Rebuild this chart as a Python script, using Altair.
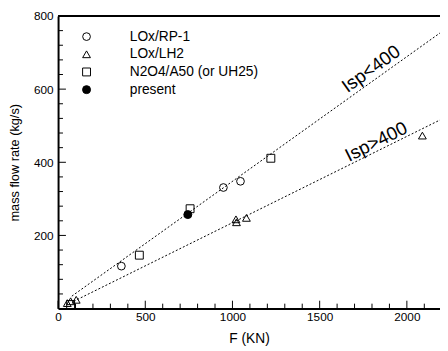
import altair as alt
import pandas as pd

# ---- data ----
series = ["LOx/RP-1", "LOx/LH2", "N2O4/A50 (or UH25)", "present"]
shapes = ["circle", "triangle-up", "square", "circle"]
fills = ["transparent", "transparent", "transparent", "black"]
strokes = ["black", "black", "black", "black"]
sizes = [62, 66, 55, 200]

rp1_F = [363, 948, 1046]
rp1_m = [116, 331, 348]
lh2_F = [53, 72, 104, 1020, 1023, 1080, 2089]
lh2_m = [15, 20, 24, 244, 236, 248, 473]
n2o4_F = [72, 466, 757, 1220]
n2o4_m = [11, 146, 273, 411]
present_F = [744]
present_m = [257]

upper_F = [79, 2200]
upper_m = [34, 757]
lower_F = [90, 2200]
lower_m = [20, 518]

label_text = ["Isp<400", "Isp>400"]
label_F = [1795, 1825]
label_m = [655, 456]
label_angle = [324.3, 333.5]

x_major = [0, 500, 1000, 1500, 2000]
x_minor = [v for v in range(100, 2200, 100) if v % 500 != 0]
y_major = [0, 200, 400, 600, 800]
y_minor = [v for v in range(40, 800, 40) if v % 200 != 0]
y_labels = [200, 400, 600, 800]

W, H = 389, 298
FONT = "Liberation Sans"

# ---- tables ----
pts = pd.DataFrame(
    [(f, m, series[0]) for f, m in zip(rp1_F, rp1_m)]
    + [(f, m, series[1]) for f, m in zip(lh2_F, lh2_m)]
    + [(f, m, series[2]) for f, m in zip(n2o4_F, n2o4_m)]
    + [(f, m, series[3]) for f, m in zip(present_F, present_m)],
    columns=["F", "m", "series"],
)
lines = pd.DataFrame(
    [(f, m, "upper") for f, m in zip(upper_F, upper_m)]
    + [(f, m, "lower") for f, m in zip(lower_F, lower_m)],
    columns=["F", "m", "line"],
)
labels = pd.DataFrame({"F": label_F, "m": label_m, "text": label_text, "angle": label_angle})

xs = alt.Scale(domain=[0, 2190], nice=False, zero=False)
ys = alt.Scale(domain=[0, 800], nice=False, zero=False)

x_axis = alt.Axis(values=x_major, format="d", ticks=False, tickSize=0, grid=False, labelFlush=False,
                  labelFontSize=12, labelPadding=3, labelColor="black",
                  domainColor="black", domainWidth=2, titleFontSize=14,
                  titleFontWeight="normal", titleColor="black", titlePadding=10)
y_axis = alt.Axis(values=y_labels, format="d", ticks=False, tickSize=0, grid=False, labelFlush=False,
                  labelFontSize=12, labelPadding=5, labelColor="black",
                  domainColor="black", domainWidth=2, titleFontSize=13,
                  titleFontWeight="normal", titleColor="black", titlePadding=12)

X = alt.X("F:Q", scale=xs, axis=x_axis, title="F (KN)")
Y = alt.Y("m:Q", scale=ys, axis=y_axis, title="mass flow rate (kg/s)")

leg = alt.Legend(orient="none", legendX=22, legendY=14, title=None,
                 labelFontSize=14, labelFont=FONT, labelColor="black", labelOffset=37,
                 rowPadding=4, symbolStrokeColor="black", symbolStrokeWidth=1, padding=0,
                 symbolOpacity=1)

line_layer = alt.Chart(lines).mark_line(color="black", strokeWidth=1, strokeDash=[2, 2], clip=True).encode(
    x=X, y=Y, detail="line:N"
)

point_layer = alt.Chart(pts).mark_point(strokeWidth=1, opacity=1, fillOpacity=1, strokeOpacity=1).encode(
    x=X, y=Y,
    shape=alt.Shape("series:N", scale=alt.Scale(domain=series, range=shapes), legend=leg),
    fill=alt.Fill("series:N", scale=alt.Scale(domain=series, range=fills), legend=leg),
    stroke=alt.Stroke("series:N", scale=alt.Scale(domain=series, range=strokes), legend=leg),
    size=alt.Size("series:N", scale=alt.Scale(domain=series, range=sizes), legend=leg),
)

text_layer = alt.Chart(labels).mark_text(font=FONT, fontSize=19, color="black", align="center",
                                          baseline="middle").encode(
    x=X, y=Y, text="text:N", angle=alt.Angle("angle:Q", scale=None)
)

xmaj = alt.Chart(pd.DataFrame({"F": x_major})).mark_rule(color="black", strokeWidth=1).encode(
    x=X, y=alt.value(H), y2=alt.value(H - 8))
xmin = alt.Chart(pd.DataFrame({"F": x_minor})).mark_rule(color="black", strokeWidth=1).encode(
    x=X, y=alt.value(H), y2=alt.value(H - 5))
ymaj = alt.Chart(pd.DataFrame({"m": y_major})).mark_rule(color="black", strokeWidth=1).encode(
    y=Y, x=alt.value(0), x2=alt.value(8))
ymin = alt.Chart(pd.DataFrame({"m": y_minor})).mark_rule(color="black", strokeWidth=1).encode(
    y=Y, x=alt.value(0), x2=alt.value(5))
top = alt.Chart(pd.DataFrame({"m": [800]})).mark_rule(color="black", strokeWidth=2).encode(
    y=Y, x=alt.value(0), x2=alt.value(W))

chart = alt.layer(line_layer, xmaj, xmin, ymaj, ymin, top, text_layer, point_layer).properties(
    width=W, height=H,
    autosize=alt.AutoSizeParams(type="none"),
    padding={"left": 51, "top": 5, "right": 0, "bottom": 36},
).configure(font=FONT).configure_view(stroke=None)

chart.save("out.html", embed_options={"renderer": "svg", "actions": False})
